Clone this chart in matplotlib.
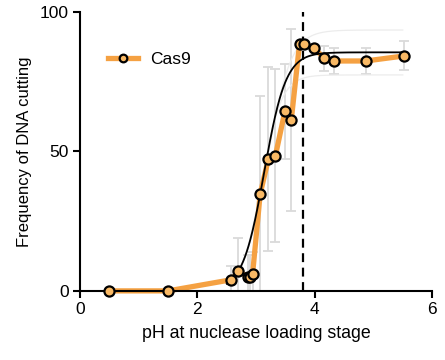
import numpy as np
import matplotlib
matplotlib.use("Agg")
import matplotlib.pyplot as plt

plt.rcParams['font.family'] = ['Liberation Sans', 'DejaVu Sans']

# Data
ph = [0.5, 1.5, 2.58, 2.70, 2.87, 2.90, 2.94, 3.07, 3.21, 3.33, 3.49, 3.60, 3.74, 3.82, 3.99, 4.16, 4.33, 4.87, 5.52]
cutting = [0, 0, 4.0, 7.0, 5.0, 4.8, 6.0, 34.8, 47.3, 48.5, 64.3, 61.3, 88.5, 88.5, 87.0, 83.4, 82.4, 82.4, 84.2]
err = [0, 0, 5, 12, 8, 8, 8, 35, 33, 31, 17, 32.5, 0, 0, 0, 4.5, 4.5, 4.8, 5.2]

# Sigmoid fit parameters (read from the drawn fit)
fit_top = 85.5
fit_v50 = 3.14
fit_slope = 0.184
fit_start = 2.5
ci_upper_top = 93.5
ci_lower_top = 77.4

threshold_ph = 3.8
series_name = "Cas9"

fig = plt.figure(figsize=(4.45, 3.6), dpi=100)
ax = fig.add_axes([0.18, 0.192, 0.791, 0.775])

orange = "#F5A142"
fill = "#F9B965"

# error bars
ax.errorbar(ph, cutting, yerr=err, fmt='none', ecolor='#dadada', elinewidth=1.3,
            capsize=3.5, capthick=1.3, zorder=1)

# confidence band (faint)
xf = np.linspace(fit_start, 5.5, 300)
def sig(x, top, v50, s):
    return top / (1 + np.exp((v50 - x) / s))
ax.plot(xf, sig(xf, ci_upper_top, fit_v50 + 0.05, 0.2), color='#ececec', lw=0.9, zorder=1)
ax.plot(xf, sig(xf, ci_lower_top, fit_v50 - 0.05, 0.17), color='#ececec', lw=0.9, zorder=1)

# orange connecting line
ax.plot(ph, cutting, color=orange, lw=3.8, zorder=2, solid_capstyle='round', clip_on=False)

# fit curve
ax.plot(xf, sig(xf, fit_top, fit_v50, fit_slope), color='black', lw=1.3, zorder=3)
ax.plot([2.55, 3.05], [0, 0], color='black', lw=1.3, ls=(0, (3, 2)), zorder=3, clip_on=False)

# markers
ax.plot(ph, cutting, ls='none', marker='o', ms=7.3, mfc=fill, mec='black', mew=1.6,
        zorder=4, clip_on=False)

# legend proxy
ax.plot([], [], color=orange, lw=3.8, marker='o', ms=5.5, mfc=fill, mec='black', mew=1.6,
        label=series_name)
ax.legend(loc='center left', bbox_to_anchor=(0.08, 0.828), frameon=False, fontsize=12.5,
          handlelength=1.7, handletextpad=0.7, borderaxespad=0, borderpad=0)

# threshold line
ax.axvline(threshold_ph, color='black', lw=1.6, ls=(0, (4, 2.5)), zorder=3)

ax.set_xlim(0, 6)
ax.set_ylim(0, 100)
ax.set_xticks([0, 2, 4, 6])
ax.set_yticks([0, 50, 100])
for s in ['top', 'right']:
    ax.spines[s].set_visible(False)
for s in ['left', 'bottom']:
    ax.spines[s].set_linewidth(1.5)
ax.tick_params(direction='out', length=5, width=1.5, labelsize=12.5, pad=3)
ax.set_xlabel("pH at nuclease loading stage", fontsize=12.8, labelpad=6)
ax.set_ylabel("Frequency of DNA cutting", fontsize=12, labelpad=6)

fig.savefig("out.png", dpi=100)
